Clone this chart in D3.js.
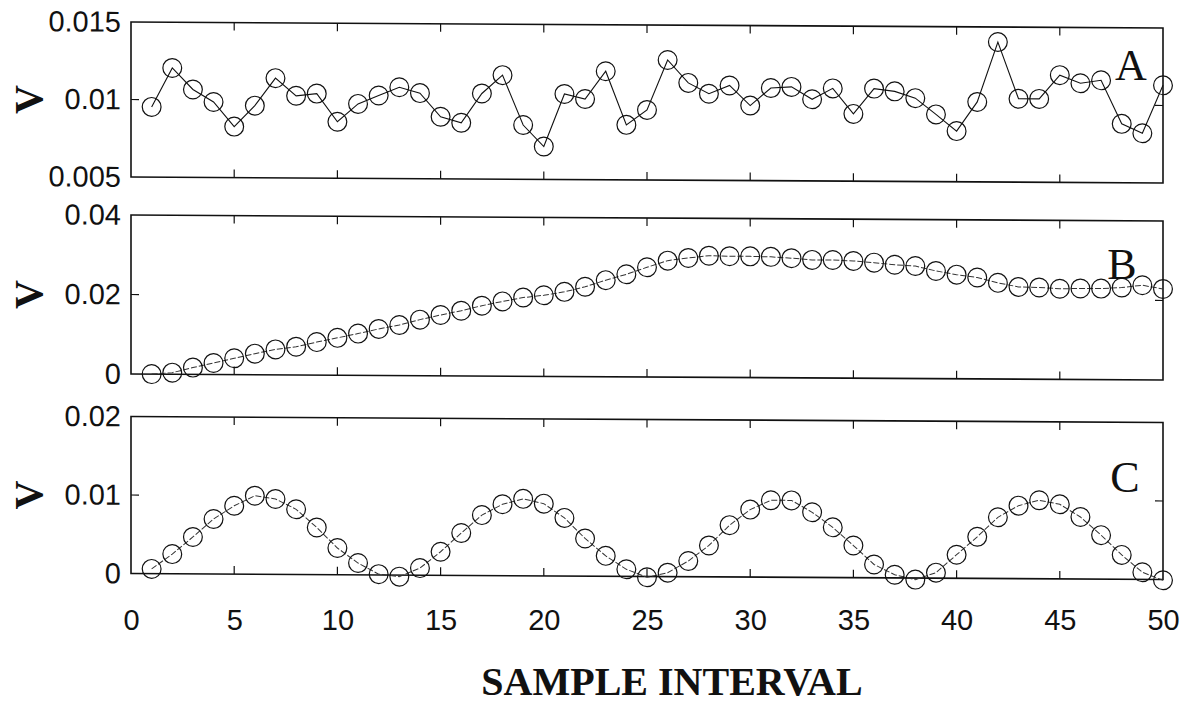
<!DOCTYPE html>
<html>
<head>
<meta charset="utf-8">
<script src="https://cdn.jsdelivr.net/npm/d3@7"></script>
<style>
  html, body { margin: 0; padding: 0; background: #fff; }
  svg { display: block; }
</style>
</head>
<body>
<svg id="chart" width="1192" height="704"></svg>
<script>
// ---------- data ----------
const sampleIndex = d3.range(1, 51);

const seriesA = [
  0.00953, 0.01205, 0.01067, 0.00987, 0.00829, 0.00965, 0.01143, 0.01030, 0.01045, 0.00864,
  0.00980, 0.01035, 0.01089, 0.01052, 0.00900, 0.00862, 0.01052, 0.01171, 0.00850, 0.00712,
  0.01052, 0.01020, 0.01200, 0.00855, 0.00952, 0.01275, 0.01128, 0.01059, 0.01113, 0.00984,
  0.01098, 0.01106, 0.01027, 0.01098, 0.00934, 0.01098, 0.01081, 0.01038, 0.00934, 0.00827,
  0.01016, 0.01403, 0.01038, 0.01038, 0.01192, 0.01140, 0.01160, 0.00880, 0.00820, 0.01130
];

const seriesB = [
  0.0000, 0.0004, 0.0017, 0.0029, 0.0041, 0.0053, 0.0064, 0.0071, 0.0083, 0.0094,
  0.0105, 0.0117, 0.0127, 0.0141, 0.0153, 0.0164, 0.0177, 0.0188, 0.0198, 0.0204,
  0.0213, 0.0226, 0.0243, 0.0258, 0.0276, 0.0293, 0.0300, 0.0306, 0.0305, 0.0305,
  0.0304, 0.0301, 0.0297, 0.0297, 0.0295, 0.0291, 0.0286, 0.0283, 0.0271, 0.0262,
  0.0255, 0.0242, 0.0232, 0.0231, 0.0228, 0.0229, 0.0229, 0.0232, 0.0238, 0.0229
];

const seriesC = [
  0.0006, 0.0025, 0.0047, 0.0070, 0.0087, 0.0100, 0.0096, 0.0083, 0.0060, 0.0034,
  0.0015, 0.0001, -0.0002, 0.0009, 0.0030, 0.0054, 0.0077, 0.0091, 0.0098, 0.0092,
  0.0074, 0.0048, 0.0026, 0.0009, -0.0001, 0.0005, 0.0020, 0.0040, 0.0066, 0.0086,
  0.0098, 0.0098, 0.0083, 0.0064, 0.0041, 0.0017, 0.0004, -0.0002, 0.0007, 0.0030,
  0.0053, 0.0078, 0.0093, 0.0100, 0.0095, 0.0079, 0.0056, 0.0031, 0.0009, -0.0001
];

const xTicks = [0, 5, 10, 15, 20, 25, 30, 35, 40, 45, 50];
const xDomain = [0, 50];

const yTicksA = [0.005, 0.01, 0.015];
const yTicksB = [0, 0.02, 0.04];
const yTicksC = [0, 0.01, 0.02];

const panelLetters = ["A", "B", "C"];
const yLabel = "V";
const xLabel = "SAMPLE INTERVAL";

// ---------- layout ----------
const left = 131, right = 1163;
const shearK = 0.0058;          // slight tilt of the scanned frames
const panels = [
  { values: seriesA, ticks: yTicksA, top: 22,    bottom: 177,   letter: panelLetters[0], lx: 1131, ly: 80,  dashed: false },
  { values: seriesB, ticks: yTicksB, top: 215,   bottom: 374,   letter: panelLetters[1], lx: 1122, ly: 279, dashed: true },
  { values: seriesC, ticks: yTicksC, top: 416.5, bottom: 573.5, letter: panelLetters[2], lx: 1125, ly: 492, dashed: true }
];

const svg = d3.select("#chart");
const x = d3.scaleLinear().domain(xDomain).range([left, right]);

const sheared = svg.append("g")
  .attr("transform", `matrix(1,${shearK},0,1,0,${-shearK * left})`);

const tickLen = 8;
const innerTicks = xTicks.filter(t => t > xDomain[0] && t < xDomain[1]);

panels.forEach(p => {
  const ext = [p.ticks[0], p.ticks[p.ticks.length - 1]];
  const y = d3.scaleLinear().domain(ext).range([p.bottom, p.top]);
  const g = sheared.append("g");

  // left axis labels
  const yAxis = d3.axisLeft(y).tickValues(p.ticks).tickSizeInner(0).tickSizeOuter(0)
    .tickPadding(10).tickFormat(d => d === 0 ? "0" : d3.format("")(+d.toFixed(3)));
  const ga = g.append("g").attr("transform", `translate(${left},0)`).call(yAxis);
  ga.select(".domain").remove();
  ga.selectAll("text")
    .attr("font-family", "'Liberation Sans', Arial, sans-serif")
    .attr("font-size", 29).attr("fill", "#111");

  // inward ticks at the middle value on both sides
  const midTicks = p.ticks.slice(1, -1);
  g.selectAll(null).data(midTicks).join("line")
    .attr("x1", left).attr("x2", left + tickLen)
    .attr("y1", d => y(d)).attr("y2", d => y(d))
    .attr("stroke", "#111").attr("stroke-width", 1.2);
  g.selectAll(null).data(midTicks).join("line")
    .attr("x1", right).attr("x2", right - tickLen)
    .attr("y1", d => y(d)).attr("y2", d => y(d))
    .attr("stroke", "#111").attr("stroke-width", 1.2);

  // top & bottom inward ticks
  g.selectAll(null).data(innerTicks).join("line")
    .attr("x1", d => x(d)).attr("x2", d => x(d))
    .attr("y1", p.top).attr("y2", p.top + tickLen)
    .attr("stroke", "#111").attr("stroke-width", 1.2);
  g.selectAll(null).data(innerTicks).join("line")
    .attr("x1", d => x(d)).attr("x2", d => x(d))
    .attr("y1", p.bottom).attr("y2", p.bottom - tickLen)
    .attr("stroke", "#111").attr("stroke-width", 1.2);

  // frame
  g.append("rect")
    .attr("x", left).attr("y", p.top)
    .attr("width", right - left).attr("height", p.bottom - p.top)
    .attr("fill", "none").attr("stroke", "#111").attr("stroke-width", 1.6);

  // line
  const line = d3.line().x((d, i) => x(sampleIndex[i])).y(d => y(d));
  g.append("path").datum(p.values)
    .attr("d", line)
    .attr("fill", "none")
    .attr("stroke", p.dashed ? "#333" : "#111")
    .attr("stroke-width", p.dashed ? 1 : 1.1)
    .attr("stroke-dasharray", p.dashed ? "6,2" : null);

  // circles
  g.selectAll(null).data(p.values).join("circle")
    .attr("cx", (d, i) => x(sampleIndex[i]))
    .attr("cy", d => y(d))
    .attr("r", 9.4)
    .attr("fill", "none")
    .attr("stroke", "#111")
    .attr("stroke-width", 1.2);
});

// panel letters
panels.forEach(p => {
  svg.append("text")
    .attr("x", p.lx).attr("y", p.ly)
    .attr("text-anchor", "middle")
    .attr("font-family", "'Liberation Serif', 'Times New Roman', serif")
    .attr("font-size", 44).attr("fill", "#111")
    .text(p.letter);
});

// y labels
panels.forEach(p => {
  const yc = (p.top + p.bottom) / 2;
  svg.append("text")
    .attr("transform", `translate(42,${yc}) rotate(-90)`)
    .attr("text-anchor", "middle")
    .attr("font-family", "'Liberation Serif', 'Times New Roman', serif")
    .attr("font-weight", "bold")
    .attr("font-size", 40).attr("fill", "#111")
    .text(yLabel);
});

// x tick labels (bottom panel)
const xAxis = d3.axisBottom(x).tickValues(xTicks).tickSize(0).tickPadding(36).tickFormat(d3.format("d"));
const gx = svg.append("g").attr("transform", `translate(0,${panels[2].bottom})`).call(xAxis);
gx.select(".domain").remove();
gx.selectAll("text")
  .attr("font-family", "'Liberation Sans', Arial, sans-serif")
  .attr("font-size", 29).attr("fill", "#111");

// x axis title
svg.append("text")
  .attr("x", 672).attr("y", 695)
  .attr("text-anchor", "middle")
  .attr("font-family", "'Liberation Serif', 'Times New Roman', serif")
  .attr("font-weight", "bold")
  .attr("font-size", 40).attr("fill", "#111")
  .text(xLabel);
</script>
</body>
</html>
